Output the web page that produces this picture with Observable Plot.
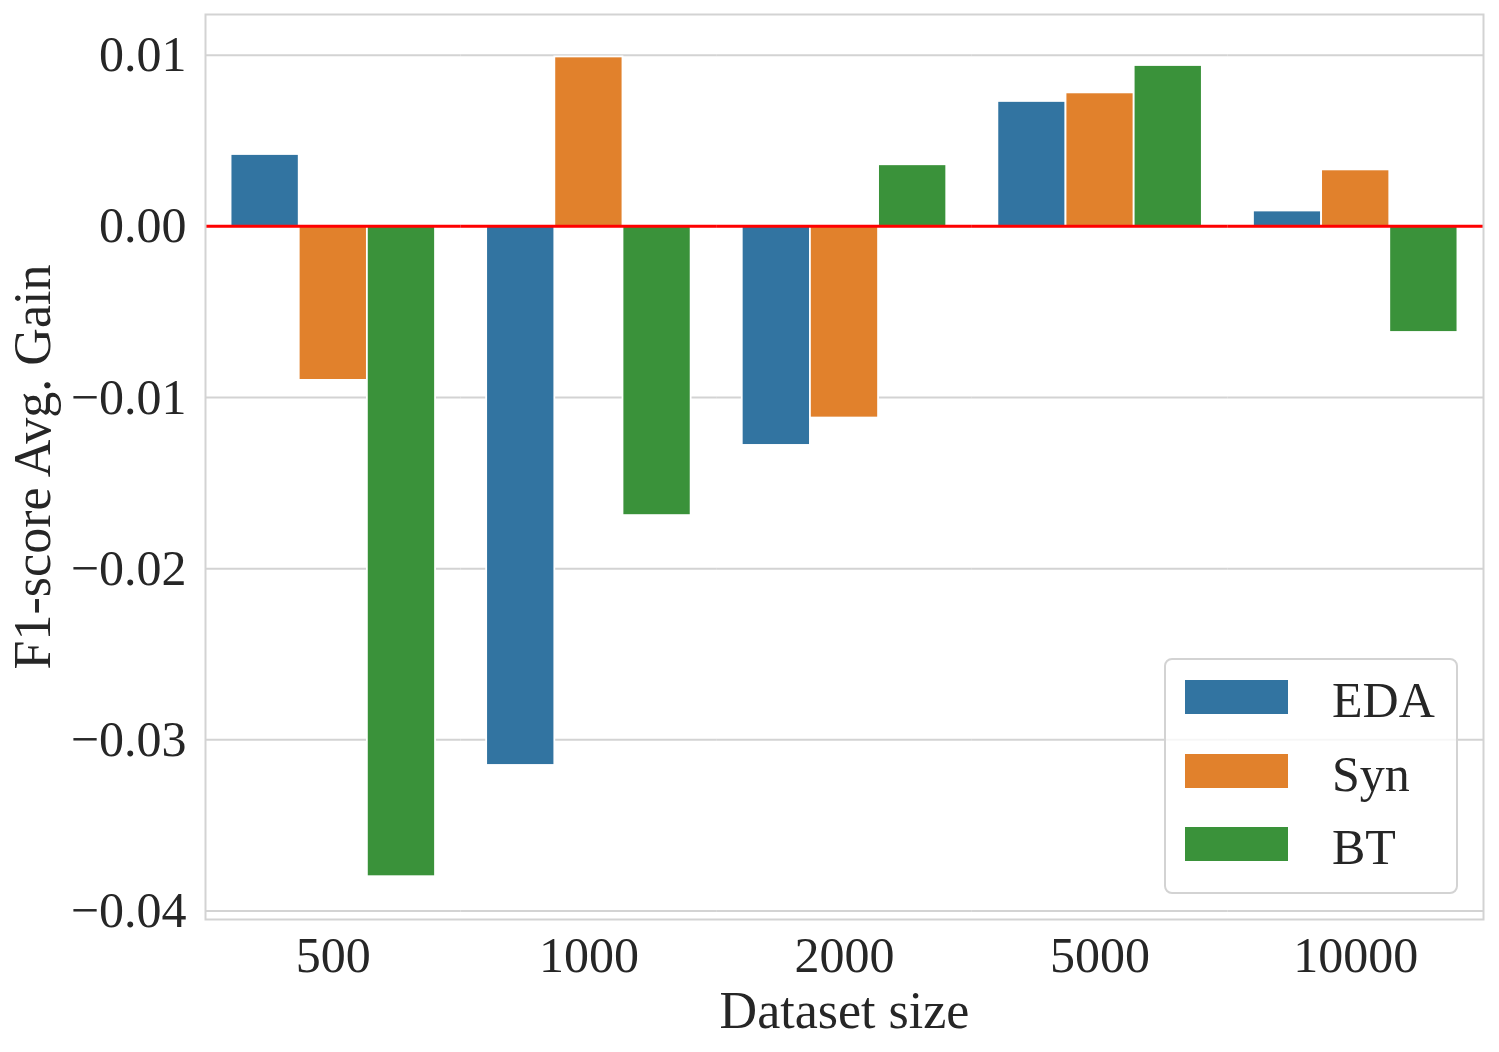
<!DOCTYPE html>
<html>
<head>
<meta charset="utf-8">
<script src="https://cdn.jsdelivr.net/npm/d3@7"></script>
<script src="https://cdn.jsdelivr.net/npm/@observablehq/plot@0.6"></script>
<style>
  body { margin: 0; background: #ffffff; }
  #wrap { position: relative; width: 1499px; height: 1052px; font-family: "Liberation Serif", "Times New Roman", serif; color: #262626; }
  #legend { position: absolute; left: 1164px; top: 658px; width: 290px; height: 232px; border: 2px solid #d3d3d3; border-radius: 8px; background: rgba(255,255,255,0.8); box-sizing: content-box; }
  .item { position: absolute; left: 19px; height: 34px; width: 270px; }
  .patch { position: absolute; left: 0; top: 0; width: 103px; height: 34px; }
  .lab { position: absolute; left: 147px; top: -5px; font-size: 50px; line-height: 50px; white-space: nowrap; }
</style>
</head>
<body>
<div id="wrap"></div>
<script>
const sizes = ["500", "1000", "2000", "5000", "10000"];
const methods = ["EDA", "Syn", "BT"];
const colors = ["#3274a1", "#e1812c", "#3a923a"];
const edaValues = [0.0042, -0.0315, -0.0128, 0.0073, 0.0009];
const synValues = [-0.0090, 0.0099, -0.0112, 0.0078, 0.0033];
const btValues = [-0.0380, -0.0169, 0.0036, 0.0094, -0.0062];
const yTicks = [0.01, 0, -0.01, -0.02, -0.03, -0.04];
const yDomain = [-0.0405, 0.01238];
const xLabel = "Dataset size";
const yLabel = "F1-score Avg. Gain";

const series = [edaValues, synValues, btValues];
const rows = sizes.flatMap((s, i) => methods.map((m, j) => ({size: s, method: m, value: series[j][i]})));

const chart = Plot.plot({
  width: 1499,
  height: 1052,
  marginLeft: 205,
  marginRight: 16,
  marginTop: 14,
  marginBottom: 133,
  style: {fontFamily: "'Liberation Serif', 'Times New Roman', serif", fontSize: "50px", color: "#262626", background: "#ffffff"},
  fx: {domain: sizes, padding: 0, round: false, label: xLabel},
  x: {domain: methods, paddingInner: 0, paddingOuter: 0.375, round: false, axis: null},
  y: {domain: yDomain, label: yLabel},
  color: {domain: methods, range: colors},
  marks: [
    Plot.ruleY(yTicks, {stroke: "#d3d3d3", strokeWidth: 2, strokeOpacity: 1}),
    Plot.barY(rows, {fx: "size", x: "method", y: "value", fill: "method", stroke: "#ffffff", strokeWidth: 1.8}),
    Plot.ruleY([0], {stroke: "#ff0000", strokeWidth: 3}),
    Plot.frame({stroke: "#d3d3d3", strokeWidth: 2, facet: "super"}),
    Plot.axisY(yTicks, {tickSize: 0, tickPadding: 19, tickFormat: d3.format(".2f"), label: null}),
    Plot.axisY([], {tickSize: 0, label: yLabel, labelAnchor: "center", labelOffset: 192, labelArrow: "none", fontSize: 52}),
    Plot.axisFx({anchor: "bottom", tickSize: 0, tickPadding: 17, label: null}),
    Plot.axisFx([], {anchor: "bottom", tickSize: 0, label: xLabel, labelAnchor: "center", labelOffset: 108, labelArrow: "none", fontSize: 52})
  ]
});
document.getElementById("wrap").appendChild(chart);

const legend = document.createElement("div");
legend.id = "legend";
methods.forEach((m, j) => {
  const item = document.createElement("div");
  item.className = "item";
  item.style.top = (20 + j * 73.5) + "px";
  const p = document.createElement("div");
  p.className = "patch";
  p.style.background = colors[j];
  const t = document.createElement("span");
  t.className = "lab";
  t.textContent = m;
  item.appendChild(p);
  item.appendChild(t);
  legend.appendChild(item);
});
document.getElementById("wrap").appendChild(legend);
</script>
</body>
</html>
